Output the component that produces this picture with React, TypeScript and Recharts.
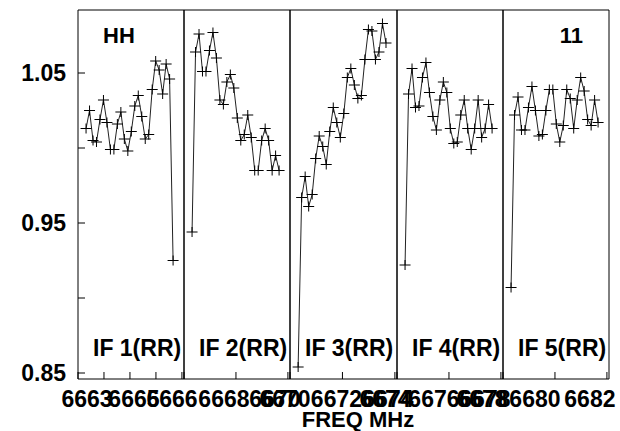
import { Line, LineChart, XAxis, YAxis } from 'recharts';

const FONT = '"Liberation Sans", Arial, Helvetica, sans-serif';

// channel frequency offsets from each panel's start (MHz)
const CHANNEL_OFFSET_MHZ = [
  0.31, 0.444, 0.578, 0.712, 0.846, 0.98, 1.114, 1.248, 1.382, 1.516, 1.65, 1.784, 1.918,
  2.052, 2.186, 2.32, 2.454, 2.588, 2.722, 2.856, 2.99, 3.124, 3.258, 3.392, 3.526, 3.66,
];

const PANEL_NAMES = ['IF 1(RR)', 'IF 2(RR)', 'IF 3(RR)', 'IF 4(RR)', 'IF 5(RR)'];
const PANEL_START_MHZ = [6663, 6666, 6670, 6674, 6678];
const PANEL_SPAN_MHZ = 4.08;

const IF1 = [
  1.013, 1.025, 1.005, 1.004, 1.019, 1.032, 1.017, 0.999, 0.999, 1.016, 1.024, 1.006, 0.998,
  1.011, 1.028, 1.035, 1.021, 1.006, 1.009, 1.039, 1.058, 1.052, 1.036, 1.056, 1.046, 0.925,
];
const IF2 = [
  0.944, 1.064, 1.076, 1.051, 1.051, 1.065, 1.077, 1.06, 1.032, 1.029, 1.044, 1.049, 1.04,
  1.02, 1.005, 1.009, 1.022, 1.007, 0.985, 0.985, 1.005, 1.013, 1.005, 0.985, 0.995, 0.985,
];
const IF3 = [
  0.854, 0.967, 0.981, 0.961, 0.969, 0.993, 1.008, 1.001, 0.989, 1.011, 1.027, 1.017, 1.007,
  1.023, 1.047, 1.053, 1.042, 1.033, 1.035, 1.059, 1.079, 1.078, 1.059, 1.064, 1.083, 1.07,
];
const IF4 = [
  0.922, 1.036, 1.053, 1.027, 1.028, 1.047, 1.057, 1.037, 1.021, 1.012, 1.032, 1.044, 1.037,
  1.013, 1.003, 1.004, 1.022, 1.032, 1.013, 0.999, 1.013, 1.032, 1.007, 1.013, 1.029, 1.013,
];
const IF5 = [
  0.907, 1.022, 1.034, 1.012, 1.012, 1.027, 1.041, 1.025, 1.008, 1.009, 1.025, 1.039, 1.039,
  1.016, 1.004, 1.015, 1.039, 1.033, 1.013, 1.032, 1.047, 1.038, 1.019, 1.015, 1.032, 1.017,
];
const SERIES = [IF1, IF2, IF3, IF4, IF5];

const X_TICKS = [
  [6663, 6664, 6665, 6666, 6667],
  [6666, 6668, 6670],
  [6670, 6672, 6674],
  [6674, 6676, 6678],
  [6678, 6680, 6682],
];
const X_LABELED = [
  [6663, 6665],
  [6666, 6668, 6670],
  [6670, 6672, 6674],
  [6674, 6676, 6678],
  [6678, 6680, 6682],
];

const Y_TICKS = [0.85, 0.9, 0.95, 1.0, 1.05];
const Y_LABELED = [0.85, 0.95, 1.05];
const Y_DOMAIN: [number, number] = [0.846, 1.092];

// layout
const W = 620;
const H = 431;
const EDGES = [78, 184, 290, 397, 503, 609];
// horizontal nudge of each tick label, as the plotting package packs them
const LABEL_DX: Record<number, number>[] = [
  { 6663: 9, 6665: 4 },
  { 6666: -12, 6668: -12, 6670: -13 },
  { 6670: -5, 6672: -6, 6674: -7 },
  { 6674: -12, 6676: -15, 6678: -16 },
  { 6678: -21, 6680: -20, 6682: -17 },
];

const plusDot = (props: any) => {
  const { cx, cy, index } = props;
  if (cx == null || cy == null) return <g key={`n${index}`} />;
  return (
    <path
      key={`p${index}`}
      d={`M${cx - 5.5},${cy}H${cx + 5.5}M${cx},${cy - 5}V${cy + 5}`}
      stroke="#000"
      strokeWidth={1}
      fill="none"
    />
  );
};

const xTick = (panel: number) => (props: any) => {
  const { x, y, payload } = props;
  const v = payload.value;
  if (!X_LABELED[panel].includes(v)) return <g />;
  return (
    <text
      x={x + (LABEL_DX[panel][v] ?? 0)}
      y={y}
      dy="0.71em"
      textAnchor="middle"
      fontFamily={FONT}
      fontWeight="bold"
      fontSize={23}
      fill="#000"
    >
      {v}
    </text>
  );
};

function Panel({ i }: { i: number }) {
  const start = PANEL_START_MHZ[i];
  const data = CHANNEL_OFFSET_MHZ.map((o, k) => ({ f: start + o, v: SERIES[i][k] }));
  const domain: [number, number] = [start, start + PANEL_SPAN_MHZ];
  return (
    <div style={{ position: 'absolute', left: 0, top: 0 }}>
      <LineChart
        width={W}
        height={H}
        data={data}
        margin={{ top: 9, right: W - EDGES[i + 1] - 1, bottom: 22, left: EDGES[i] - 1 }}
      >
        <XAxis
          xAxisId="b"
          dataKey="f"
          type="number"
          domain={domain}
          allowDataOverflow
          ticks={X_TICKS[i]}
          interval={0}
          height={30}
          tickSize={-7}
          tickMargin={19}
          stroke="#000"
          tick={xTick(i)}
        />
        <XAxis
          xAxisId="t"
          orientation="top"
          dataKey="f"
          type="number"
          domain={domain}
          allowDataOverflow
          ticks={X_TICKS[i]}
          interval={0}
          height={1}
          tickSize={-7}
          stroke="#000"
          tick={false}
        />
        <YAxis
          yAxisId="l"
          type="number"
          domain={Y_DOMAIN}
          allowDataOverflow
          ticks={Y_TICKS}
          interval={0}
          width={1}
          tickSize={-7}
          tickMargin={19}
          stroke="#000"
          tickFormatter={(v: number) => (Y_LABELED.includes(v) ? v.toFixed(2) : '')}
          tick={i === 0 ? { fill: '#000', fontSize: 23, fontWeight: 'bold', fontFamily: FONT } : false}
        />
        <YAxis
          yAxisId="r"
          orientation="right"
          type="number"
          domain={Y_DOMAIN}
          allowDataOverflow
          ticks={Y_TICKS}
          interval={0}
          width={1}
          tickSize={-7}
          stroke="#000"
          tick={false}
        />
        <Line
          xAxisId="b"
          yAxisId="l"
          type="linear"
          dataKey="v"
          stroke="#222"
          strokeWidth={1}
          dot={plusDot}
          activeDot={false}
          isAnimationActive={false}
        />
      </LineChart>
    </div>
  );
}

export default function App() {
  const txt = { fontFamily: FONT, fontWeight: 'bold' as const, fill: '#000' };
  return (
    <div style={{ position: 'absolute', left: 0, top: 0, width: W, height: H, background: '#fff' }}>
      {PANEL_NAMES.map((_, i) => (
        <Panel key={i} i={i} />
      ))}
      <svg width={W} height={H} style={{ position: 'absolute', left: 0, top: 0 }}>
        <text x={103} y={43} fontSize={22} {...txt}>HH</text>
        <text x={583} y={43} fontSize={22} textAnchor="end" {...txt}>11</text>
        {PANEL_NAMES.map((n, i) => (
          <text key={n} x={EDGES[i] + 15} y={356} fontSize={23} {...txt}>
            {n}
          </text>
        ))}
        <text x={358} y={427} fontSize={22} textAnchor="middle" {...txt}>FREQ MHz</text>
      </svg>
    </div>
  );
}
